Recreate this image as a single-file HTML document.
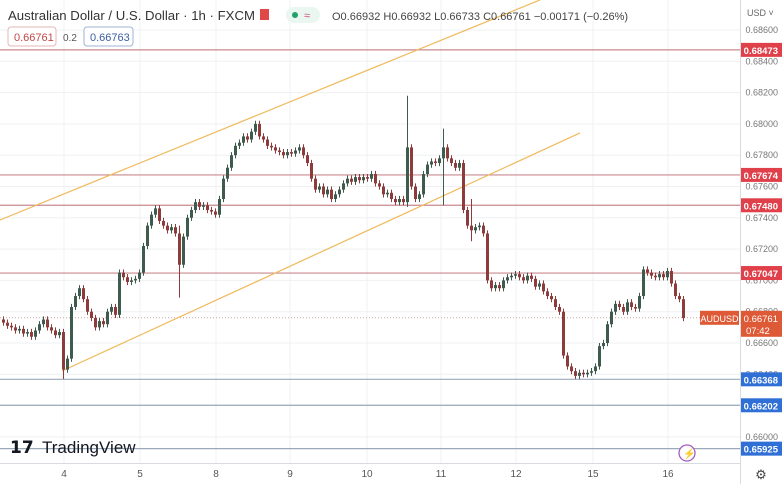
<!DOCTYPE html>
<html><head><meta charset="utf-8">
<style>
html,body{margin:0;padding:0;background:#fff;}
body{width:782px;height:484px;overflow:hidden;font-family:"Liberation Sans",sans-serif;position:relative;}
svg{position:absolute;left:0;top:0;}
</style></head>
<body>
<svg id="chart" width="782" height="484" viewBox="0 0 782 484" xmlns="http://www.w3.org/2000/svg">
<rect x="0" y="0" width="782" height="484" fill="#ffffff"/>
<g id="grid"></g>
<g id="levels"></g>
<g id="channel"></g>
<g id="candles"></g>
<g id="axes"></g>
<g id="header">
  <text x="8" y="20" font-size="13.2" fill="#333">Australian Dollar / U.S. Dollar · 1h · FXCM</text>
  <rect x="260" y="9" width="9" height="11" fill="#e04848"/>
  <rect x="286" y="7" width="34" height="16" rx="8" fill="#eaf6f0"/>
  <circle cx="295" cy="15" r="3" fill="#22a06b"/>
  <text x="304" y="19" font-size="11" fill="#d0507a">≈</text>
  <text x="332" y="20" font-size="11" fill="#444">O0.66932 H0.66932 L0.66733 C0.66761 −0.00171 (−0.26%)</text>
  <rect x="8" y="27" width="48" height="19" rx="3" fill="#fff" stroke="#e3b7b7"/>
  <text x="14" y="41" font-size="11" fill="#c04848">0.66761</text>
  <text x="63" y="41" font-size="10" fill="#555">0.2</text>
  <rect x="84" y="27" width="49" height="19" rx="3" fill="#fff" stroke="#9db5d6"/>
  <text x="90" y="41" font-size="11" fill="#3a5f9f">0.66763</text>
</g>
<g>
  <text x="10" y="453" font-size="17" font-weight="bold" fill="#131722">𝟭𝟳</text>
  <text x="42" y="453" font-size="17" fill="#131722">TradingView</text>
</g>
<g>
  <circle cx="687" cy="453" r="8" fill="#fff" stroke="#a35cc4" stroke-width="1.3"/>
  <text x="683" y="457" font-size="10" fill="#a35cc4">⚡</text>
</g>
</svg>
<script>
const W = 782, H = 484;
const plotRight = 740, plotBottom = 463;
const categories = ["4","5","8","9","10","11","12","15","16"];
const categoryX = [64,140,216,290,367,441,516,593,668];
const priceTicks = [0.686,0.684,0.682,0.680,0.678,0.676,0.674,0.672,0.670,0.668,0.666,0.664,0.662,0.660];
const resistanceLevels = [0.68473,0.67674,0.6748,0.67047];
const supportLevels = [0.66368,0.66202,0.65925];
const lastPrice = 0.66761;
const closes = [
0.6673,0.6671,0.6670,0.6668,0.6669,0.6666,0.6667,0.6664,0.6668,0.6672,0.6675,0.6670,0.6668,0.6665,0.6667,
0.6643,0.6650,
0.6683,0.6690,0.6695,0.6688,
0.6680,0.6676,0.6670,0.6674,
0.6672,0.6680,0.6683,0.6678,
0.6705,0.6702,0.6699,0.6700,
0.6701,0.6705,0.6722,0.6735,
0.6742,0.6746,0.6738,0.6735,
0.6732,0.6734,0.6730,0.6710,
0.6728,0.6740,0.6745,0.6750,
0.6747,0.6748,0.6745,0.6744,
0.6742,0.6752,0.6765,0.6772,
0.6780,0.6786,0.6788,0.6792,
0.6790,0.6795,0.6800,0.6792,
0.6790,0.6786,0.6785,0.6783,
0.6782,0.6780,0.6782,0.6781,
0.6783,0.6785,0.6780,0.6775,
0.6765,0.6758,0.6760,0.6755,
0.6758,0.6752,0.6755,0.6758,
0.6762,0.6765,0.6763,0.6766,
0.6764,0.6766,0.6765,0.6768,
0.6762,0.6760,0.6755,0.6756,
0.6752,0.6750,0.6752,0.6750,
0.6785,0.6760,0.6752,0.6755,
0.6768,0.6774,0.6776,0.6775,
0.6778,0.6785,0.6778,0.6775,
0.6772,0.6775,0.6745,0.6735,
0.6732,0.6734,0.6735,0.6730,
0.6700,0.6695,0.6697,0.6695,
0.6700,0.6702,0.6703,0.6704,
0.6702,0.6700,0.6703,0.6701,
0.6696,0.6698,0.6693,0.6690,
0.6688,0.6683,0.6680,0.6652,
0.6645,0.6642,0.6639,0.6641,
0.6640,0.6641,0.6642,0.6645,
0.6658,0.6660,0.6672,0.6680,
0.6685,0.6683,0.6680,0.6686,
0.6683,0.6682,0.6690,0.6707,
0.6705,0.6703,0.6702,0.6704,
0.6702,0.6706,0.6698,0.6690,
0.6688,0.6676];
const spikeIndex = [15,44,101,110,117,160];
const spikeHigh = [0.6652,0.6735,0.6818,0.6797,0.6752,0.6709];
const spikeLow = [0.6637,0.6689,0.6747,0.6748,0.6725,0.6688];
const channelUpper = [[0,0.67386],[540,0.68792]];
const channelLower = [[62,0.66421],[580,0.67942]];

function yScale(p){ return 30 + (0.686 - p) * 15650; }
function xScale(i){ return 2 + i * 4; }
const NS = "http://www.w3.org/2000/svg";
function mk(tag, attrs, parent){ const e=document.createElementNS(NS,tag); for(const k in attrs) e.setAttribute(k,attrs[k]); parent.appendChild(e); return e; }

const grid = document.getElementById('grid');
priceTicks.forEach(p=>{
  const l = mk('line',{x1:0,x2:plotRight,y1:yScale(p),y2:yScale(p),stroke:'#eef0f3','stroke-width':1},grid);
  
  
});
categoryX.forEach(x=>{
  const l = mk('line',{x1:x,x2:x,y1:0,y2:plotBottom,stroke:'#eef0f3','stroke-width':1},grid);
  
  
});

const lv = document.getElementById('levels');
resistanceLevels.forEach(p=>{
  const l = mk('line',{x1:0,x2:plotRight,y1:yScale(p),y2:yScale(p),stroke:'#c98a8f','stroke-width':1.2},lv);
  
  
});
supportLevels.forEach(p=>{
  const l = mk('line',{x1:0,x2:plotRight,y1:yScale(p),y2:yScale(p),stroke:'#9aa9b8','stroke-width':1.2},lv);
  
  
});
const dl = mk('line',{x1:0,x2:plotRight,y1:yScale(lastPrice),y2:yScale(lastPrice),stroke:'#c9a2a2','stroke-width':1,'stroke-dasharray':'1,2'},lv);



const ch = document.getElementById('channel');
[channelUpper, channelLower].forEach(c=>{
  const l = mk('line',{x1:c[0][0],y1:yScale(c[0][1]),x2:c[1][0],y2:yScale(c[1][1]),stroke:'#f0b95c','stroke-width':1.2},ch);
  
  
});

const cg = document.getElementById('candles');
closes.forEach((c,i)=>{
  const o = i===0 ? 0.6675 : closes[i-1];
  let hi = Math.max(o,c)+0.0002, lo = Math.min(o,c)-0.0002;
  const si = spikeIndex.indexOf(i);
  if(si>=0){ hi = Math.max(hi,spikeHigh[si]); lo = Math.min(lo,spikeLow[si]); }
  const up = c>=o, col = up ? '#3f5b4e' : '#8e3b3b';
  const x = xScale(i);
  const w = mk('line',{x1:x+1.5,x2:x+1.5,y1:yScale(hi),y2:yScale(lo),stroke:col,'stroke-width':1},cg);
  
  
  const yt = yScale(Math.max(o,c)), yb = yScale(Math.min(o,c));
  const b = mk('rect',{x:x,y:yt,width:3,height:Math.max(1,yb-yt),fill:col},cg);
  
  
});

const ax = document.getElementById('axes');
mk('rect',{x:plotRight,y:0,width:W-plotRight,height:H,fill:'#fff'},ax);
mk('line',{x1:plotRight+0.5,x2:plotRight+0.5,y1:0,y2:H,stroke:'#d8dbe0'},ax);
mk('line',{x1:0,x2:plotRight,y1:plotBottom+0.5,y2:plotBottom+0.5,stroke:'#d8dbe0'},ax);
const usd = mk('text',{x:747,y:16,'font-size':9,fill:'#666'},ax); usd.textContent='USD ˅';


priceTicks.forEach(p=>{
  const t = mk('text',{x:778,y:yScale(p)+3,'font-size':9,fill:'#777','text-anchor':'end'},ax);
  t.textContent = p.toFixed(5);
  
  
});
function tag(p,color,name){
  const y=yScale(p);
  const r = mk('rect',{x:741,y:y-7,width:41,height:14,fill:color},ax);
  
  
  const t = mk('text',{x:778,y:y+4,'font-size':9.5,'font-weight':'bold',fill:'#fff','text-anchor':'end'},ax);
  t.textContent=p.toFixed(5);
}
resistanceLevels.forEach(p=>tag(p,'#e0404a','resistance-tag'));
supportLevels.forEach(p=>tag(p,'#2f6fd6','support-tag'));
const ly=yScale(lastPrice);
const lr = mk('rect',{x:741,y:ly-7,width:41,height:26,fill:'#de5a37'},ax);


const lt = mk('text',{x:778,y:ly+4,'font-size':9.5,fill:'#fff','text-anchor':'end'},ax); lt.textContent=lastPrice.toFixed(5);
const lt2 = mk('text',{x:746,y:ly+16,'font-size':9.5,fill:'#fff'},ax); lt2.textContent='07:42';
const sr = mk('rect',{x:700,y:ly-7,width:39,height:14,fill:'#de5a37'},ax);


const st = mk('text',{x:719.5,y:ly+4,'font-size':9,fill:'#fff','text-anchor':'middle'},ax); st.textContent='AUDUSD';
categories.forEach((c,i)=>{
  const t = mk('text',{x:categoryX[i],y:477,'font-size':10,fill:'#555','text-anchor':'middle'},ax);
  t.textContent=c;
  
  
});
const gear = mk('text',{x:761,y:479,'font-size':13,fill:'#444','text-anchor':'middle'},ax); gear.textContent='⚙';


</script>
</body></html>
